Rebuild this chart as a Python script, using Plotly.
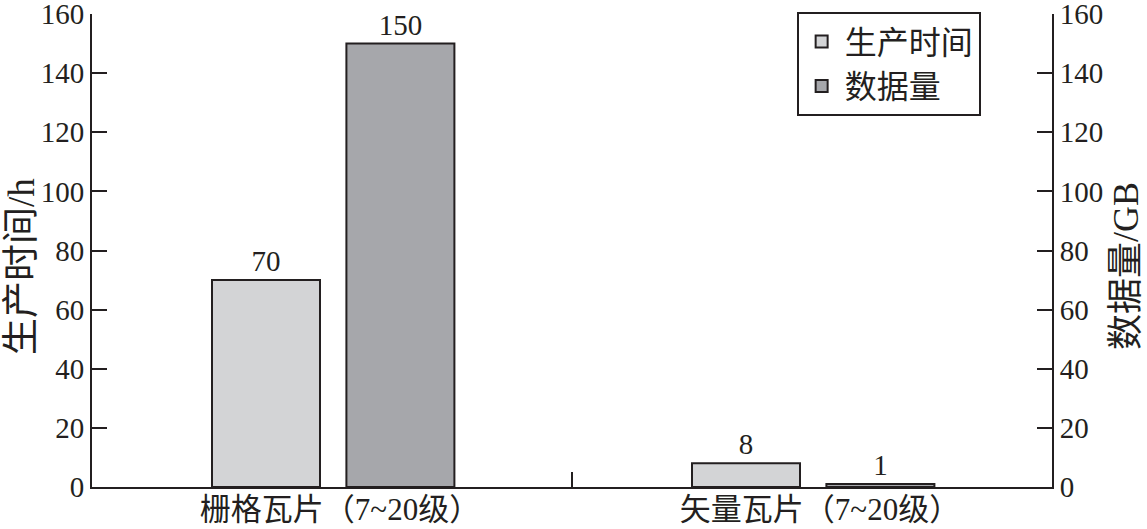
import plotly.graph_objects as go

categories = ["栅格瓦片（7~20级）", "矢量瓦片（7~20级）"]
time_values = [70, 8]
data_values = [150, 1]
series_names = ["生产时间", "数据量"]
axis_titles = ["生产时间/h", "数据量/GB"]
y_ticks = [0, 20, 40, 60, 80, 100, 120, 140, 160]

FONT = "Liberation Serif, Times New Roman, Noto Sans CJK SC, serif"
LIGHT = "#d3d4d6"
DARK = "#a6a7ab"
INK = "#231f20"

fig = go.Figure()
fig.add_trace(go.Bar(
    x=categories, y=time_values, name=series_names[0],
    marker=dict(color=LIGHT, line=dict(color=INK, width=2)),
    width=0.225, offset=-0.25,
    text=[str(v) for v in time_values], textposition="outside",
    textfont=dict(family=FONT, size=29, color=INK),
    cliponaxis=False, yaxis="y",
))
fig.add_trace(go.Bar(
    x=categories, y=data_values, name=series_names[1],
    marker=dict(color=DARK, line=dict(color=INK, width=2)),
    width=0.225, offset=0.03,
    text=[str(v) for v in data_values], textposition="outside",
    textfont=dict(family=FONT, size=29, color=INK),
    cliponaxis=False, yaxis="y2",
))

axis_common = dict(
    range=[0, 160], tickvals=y_ticks, ticks="inside", ticklen=15, tickwidth=2,
    tickcolor=INK, showline=True, linecolor=INK, linewidth=2,
    showgrid=False, zeroline=False, automargin=False,
    ticklabeloverflow="allow",
    tickfont=dict(family=FONT, size=29, color=INK),
)

fig.update_layout(
    width=1147, height=529,
    margin=dict(l=92, r=95, t=14, b=42),
    paper_bgcolor="white", plot_bgcolor="white",
    barmode="overlay",
    font=dict(family=FONT, size=29, color=INK),
    showlegend=True,
    legend=dict(
        x=0.734, y=1.004, xanchor="left", yanchor="top",
        bordercolor=INK, borderwidth=2, bgcolor="white",
        font=dict(family=FONT, size=32, color=INK),
        itemwidth=36, tracegroupgap=0, entrywidth=170,
    ),
    xaxis=dict(
        type="category", tickson="boundaries", ticks="inside", ticklen=15,
        tickwidth=2, tickcolor=INK, showline=True, linecolor=INK,
        linewidth=2, showgrid=False, range=[-0.5, 1.5], automargin=False,
        ticklabelstandoff=-6, ticklabelshift=8,
        tickfont=dict(family=FONT, size=31, color=INK),
    ),
    yaxis=dict(**axis_common),
    yaxis2=dict(**axis_common, overlaying="y", side="right"),
    annotations=[
        dict(text=axis_titles[0], xref="paper", yref="paper", x=-0.074, y=0.467,
             textangle=-90, showarrow=False, xanchor="center", yanchor="middle",
             font=dict(family=FONT, size=37, color=INK)),
        dict(text=axis_titles[1], xref="paper", yref="paper", x=1.077, y=0.467,
             textangle=-90, showarrow=False, xanchor="center", yanchor="middle",
             font=dict(family=FONT, size=36, color=INK)),
    ],
)

fig.write_html("out.html", post_script="document.body.style.margin='0';",
               config={"displayModeBar": False})
